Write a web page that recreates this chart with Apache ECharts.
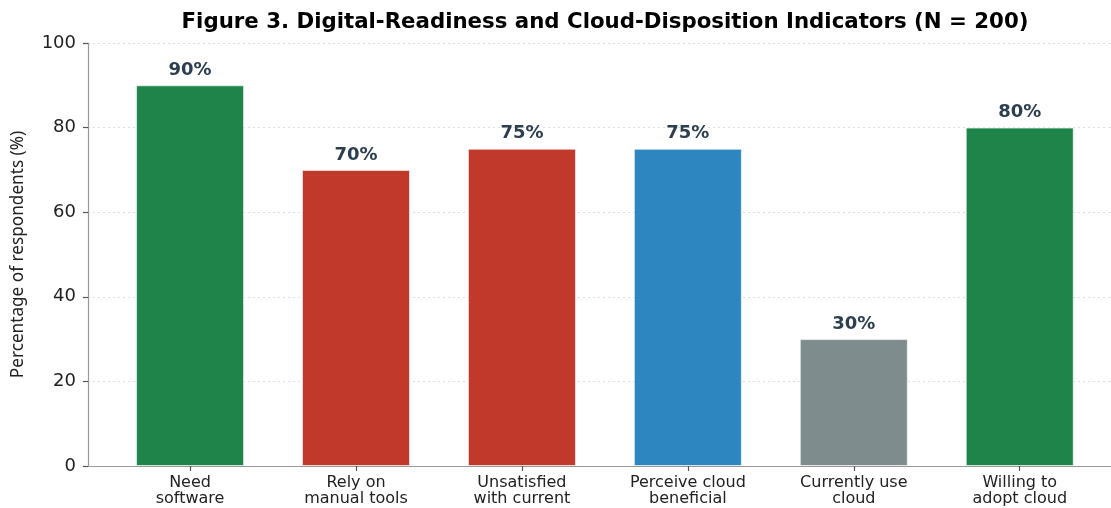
<!DOCTYPE html>
<html>
<head>
<meta charset="utf-8">
<script src="https://cdn.jsdelivr.net/npm/echarts@6/dist/echarts.min.js"></script>
<style>
  html, body { margin: 0; padding: 0; background: #ffffff; }
  #chart { width: 1111px; height: 508px; }
</style>
</head>
<body>
<div id="chart"></div>
<script>
// Survey indicators (share of 200 respondents)
const categories = [
  'Need\nsoftware',
  'Rely on\nmanual tools',
  'Unsatisfied\nwith current',
  'Perceive cloud\nbeneficial',
  'Currently use\ncloud',
  'Willing to\nadopt cloud'
];
const percentages = [90, 70, 75, 75, 30, 80];
const barColors = ['#1e8449', '#c0392b', '#c0392b', '#2e86c1', '#7f8c8d', '#1e8449'];
const yTicks = [0, 20, 40, 60, 80, 100];

const FONT = 'DejaVu Sans';
const positions = categories.map((_, i) => i);

const chart = echarts.init(document.getElementById('chart'), null, { renderer: 'canvas' });

chart.setOption({
  animation: false,
  backgroundColor: '#ffffff',
  title: {
    text: 'Figure 3. Digital-Readiness and Cloud-Disposition Indicators (N = 200)',
    left: 600,
    textAlign: 'center',
    top: 7,
    textStyle: { fontFamily: FONT, fontWeight: 'bold', fontSize: 21.3, color: '#000000' }
  },
  grid: { left: 88, right: 0, top: 43, bottom: 42, containLabel: false },
  xAxis: {
    type: 'value',
    min: -0.615,
    max: 5.55,
    splitLine: { show: false },
    axisLine: { show: true, onZero: false, lineStyle: { color: '#999999', width: 1.2 } },
    axisTick: {
      show: true, length: 5, customValues: positions,
      lineStyle: { color: '#555555', width: 1.2 }
    },
    axisLabel: {
      show: true, customValues: positions,
      formatter: v => categories[Math.round(v)],
      fontFamily: FONT, fontSize: 16, color: '#222222', lineHeight: 16, margin: 9
    }
  },
  yAxis: {
    type: 'value',
    min: yTicks[0],
    max: yTicks[yTicks.length - 1],
    interval: 20,
    name: 'Percentage of respondents (%)',
    nameLocation: 'middle',
    nameGap: 61,
    nameTextStyle: { fontFamily: "'Noto Sans'", fontSize: 17.2, color: '#222222' },
    axisLine: { show: true, onZero: false, lineStyle: { color: '#999999', width: 1.2 } },
    axisTick: { show: true, length: 5, lineStyle: { color: '#555555', width: 1.2 } },
    axisLabel: { fontFamily: FONT, fontSize: 18, color: '#222222', margin: 12 },
    splitLine: { show: true, lineStyle: { color: '#dddddd', type: [2, 3], width: 1 } }
  },
  series: [{
    type: 'bar',
    barWidth: 108,
    data: percentages.map((v, i) => ({
      value: [i, v],
      itemStyle: { color: barColors[i], borderColor: 'rgba(255,255,255,0.6)', borderWidth: 1 }
    })),
    label: {
      show: true,
      position: 'top',
      distance: 6,
      formatter: p => p.value[1] + '%',
      fontFamily: FONT, fontWeight: 'bold', fontSize: 18, color: '#2c3e50'
    }
  }]
});
</script>
</body>
</html>
